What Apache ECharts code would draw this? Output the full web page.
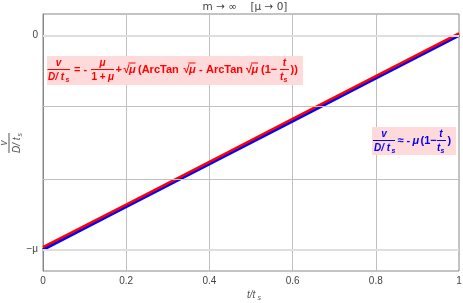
<!DOCTYPE html>
<html><head><meta charset="utf-8">
<script src="https://cdn.jsdelivr.net/npm/echarts@6/dist/echarts.min.js"></script>
<style>html,body{margin:0;padding:0;background:#fff}#c{width:463px;height:303px}</style>
</head><body><div id="c"></div>
<script>
// ---- data ----
const xTicks = [0, 0.2, 0.4, 0.6, 0.8, 1];
const xTickLabels = ['0', '0.2', '0.4', '0.6', '0.8', '1'];
const yTicks = [-1, 0];
const yTickLabels = ['\u2212\u03bc', '0'];
const yGridMajor = [0, -1];
const yGridMinor = [-0.3333, -0.6667];
const tValues = [0, 0.2, 0.4, 0.6, 0.8, 1];
const approxValues = [-1, -0.8, -0.6, -0.4, -0.2, 0];
const exactValues = [-0.989, -0.790, -0.590, -0.390, -0.190, 0.010];

// ---- helpers ----
const FF = '"Liberation Sans", Arial, sans-serif';
function T(x, y, s, o) {
  o = o || {};
  const a = o.a || 'left';
  return { type: 'text', x: x, y: y, silent: true, z: 100,
    style: { text: s, fill: o.c || '#ff0000',
      font: (o.it ? 'italic ' : '') + (o.w || 'bold') + ' ' + (o.fs || 11) + 'px ' + (o.ff || FF),
      textAlign: a, align: a, textVerticalAlign: 'middle', verticalAlign: 'middle' } };
}
function L(x1, x2, y, c, w) {
  return { type: 'line', silent: true, z: 100, shape: { x1: x1, y1: y, x2: x2, y2: y },
    style: { stroke: c, lineWidth: w || 1 } };
}
function R(x, y, w, h) {
  return { type: 'rect', silent: true, z: 99, shape: { x: x, y: y, width: w, height: h },
    style: { fill: '#ffdada' } };
}
function SQ(x, y, c) {
  return [T(x, y, '\u221a', { c: c }), T(x + 5.5, y, '\u03bc', { c: c, it: true }), L(x + 5, x + 12, y - 7, c, 1)];
}
const RED = '#ff0000', BLUE = '#0000ff', GRAY = '#555555';

let g = [];
// title
g.push(T(245, 7, 'm \u2192 \u221e    [\u03bc \u2192 0]', { c: '#444', w: 'normal', fs: 10.5, a: 'center', ff: '"DejaVu Sans", sans-serif' }));
// x axis name
g.push(T(247, 295, 't/t', { c: GRAY, w: 'normal', it: true, fs: 10 }));
g.push(T(257.5, 298, 's', { c: GRAY, w: 'normal', it: true, fs: 7 }));
// y axis name (rotated fraction)
g.push({ type: 'group', x: 11, y: 143, rotation: Math.PI / 2, children: [
  T(0, -7, 'v', { c: GRAY, w: 'normal', it: true, fs: 10, a: 'center' }),
  L(-10, 10, -2, GRAY, 1),
  T(-10, 6, 'D/ t', { c: GRAY, w: 'normal', it: true, fs: 10 }),
  T(6.5, 9, 's', { c: GRAY, w: 'normal', it: true, fs: 7 })
] });

// red formula
g.push(R(47, 56, 256, 29));
g.push(T(58.5, 63, 'v', { it: true, fs: 10, a: 'center' }));
g.push(L(47.5, 70, 69.5, RED));
g.push(T(48, 77, 'D/ t', { it: true, fs: 10 }));
g.push(T(65.5, 80, 's', { it: true, fs: 7 }));
g.push(T(74, 70, '= -'));
g.push(T(102.5, 63, '\u03bc', { it: true, fs: 10, a: 'center' }));
g.push(L(91, 114, 69.5, RED));
g.push(T(91.5, 77, '1 + ', { fs: 10 }));
g.push(T(108, 77, '\u03bc', { it: true, fs: 10 }));
g.push(T(115.5, 70, '+'));
g = g.concat(SQ(123.5, 70, RED));
g.push(T(138, 70, '(ArcTan'));
g = g.concat(SQ(183.5, 70, RED));
g.push(T(199, 70, '-'));
g.push(T(206, 70, 'ArcTan'));
g = g.concat(SQ(246, 70, RED));
g.push(T(261, 70, '(1\u2212'));
g.push(T(284.5, 63, 't', { it: true, fs: 10, a: 'center' }));
g.push(L(280, 289, 69.5, RED));
g.push(T(280, 77, 't', { it: true, fs: 10 }));
g.push(T(283.5, 80, 's', { it: true, fs: 7 }));
g.push(T(290.5, 70, '))'));

// blue formula
g.push(R(372, 127, 84, 28));
g.push(T(384, 134, 'v', { c: BLUE, it: true, fs: 10, a: 'center' }));
g.push(L(373, 395, 140.5, BLUE));
g.push(T(374, 148, 'D/ t', { c: BLUE, it: true, fs: 10 }));
g.push(T(391.5, 151, 's', { c: BLUE, it: true, fs: 7 }));
g.push(T(397.5, 141, '\u2248', { c: BLUE }));
g.push(T(406.5, 141, '-', { c: BLUE }));
g.push(T(412.5, 141, '\u03bc', { c: BLUE, it: true }));
g.push(T(420.5, 141, '(1\u2212', { c: BLUE }));
g.push(T(441, 134, 't', { c: BLUE, it: true, fs: 10, a: 'center' }));
g.push(L(437, 446, 140.5, BLUE));
g.push(T(437, 148, 't', { c: BLUE, it: true, fs: 10 }));
g.push(T(440.5, 151, 's', { c: BLUE, it: true, fs: 7 }));
g.push(T(447.5, 141, ')', { c: BLUE }));

function lookup(v, ticks, labels) {
  for (let i = 0; i < ticks.length; i++) if (Math.abs(v - ticks[i]) < 1e-9) return labels[i];
  return '';
}

const chart = echarts.init(document.getElementById('c'), null, { renderer: 'canvas' });
chart.setOption({
  animation: false,
  backgroundColor: '#fff',
  grid: { left: 43, right: 4, top: 14, bottom: 32, show: true, borderColor: '#888', borderWidth: 1,
    containLabel: false, outerBoundsMode: 'none' },
  xAxis: { type: 'value', min: 0, max: 1, interval: 0.2,
    axisLine: { show: true, lineStyle: { color: '#888' } }, axisTick: { show: false },
    splitLine: { show: true, lineStyle: { color: '#c0c0c0', width: 1 } },
    axisLabel: { color: '#444', fontSize: 10, margin: 5, fontFamily: FF,
      formatter: v => lookup(v, xTicks, xTickLabels) } },
  yAxis: { type: 'value', min: -1.1, max: 0.1,
    axisLine: { show: true, lineStyle: { color: '#888' } }, axisTick: { show: false },
    splitLine: { show: false },
    axisLabel: { customValues: yTicks, color: '#444', fontSize: 10, margin: 5, fontFamily: FF,
      formatter: v => lookup(v, yTicks, yTickLabels) } },
  series: [
    { type: 'line', data: [], z: 1, silent: true,
      markLine: { silent: true, symbol: ['none', 'none'], label: { show: false }, animation: false,
        data: yGridMajor.map(v => ({ yAxis: v, lineStyle: { color: '#dedede', width: 2, type: 'solid' } }))
          .concat(yGridMinor.map(v => ({ yAxis: v, lineStyle: { color: '#c0c0c0', width: 1, type: 'solid' } }))) } },
    { type: 'line', z: 3, showSymbol: false, silent: true,
      data: tValues.map((t, i) => [t, approxValues[i]]),
      lineStyle: { color: BLUE, width: 3 } },
    { type: 'line', z: 4, showSymbol: false, silent: true,
      data: tValues.map((t, i) => [t, exactValues[i]]),
      lineStyle: { color: RED, width: 2.5 } }
  ],
  graphic: g
});
</script></body></html>
